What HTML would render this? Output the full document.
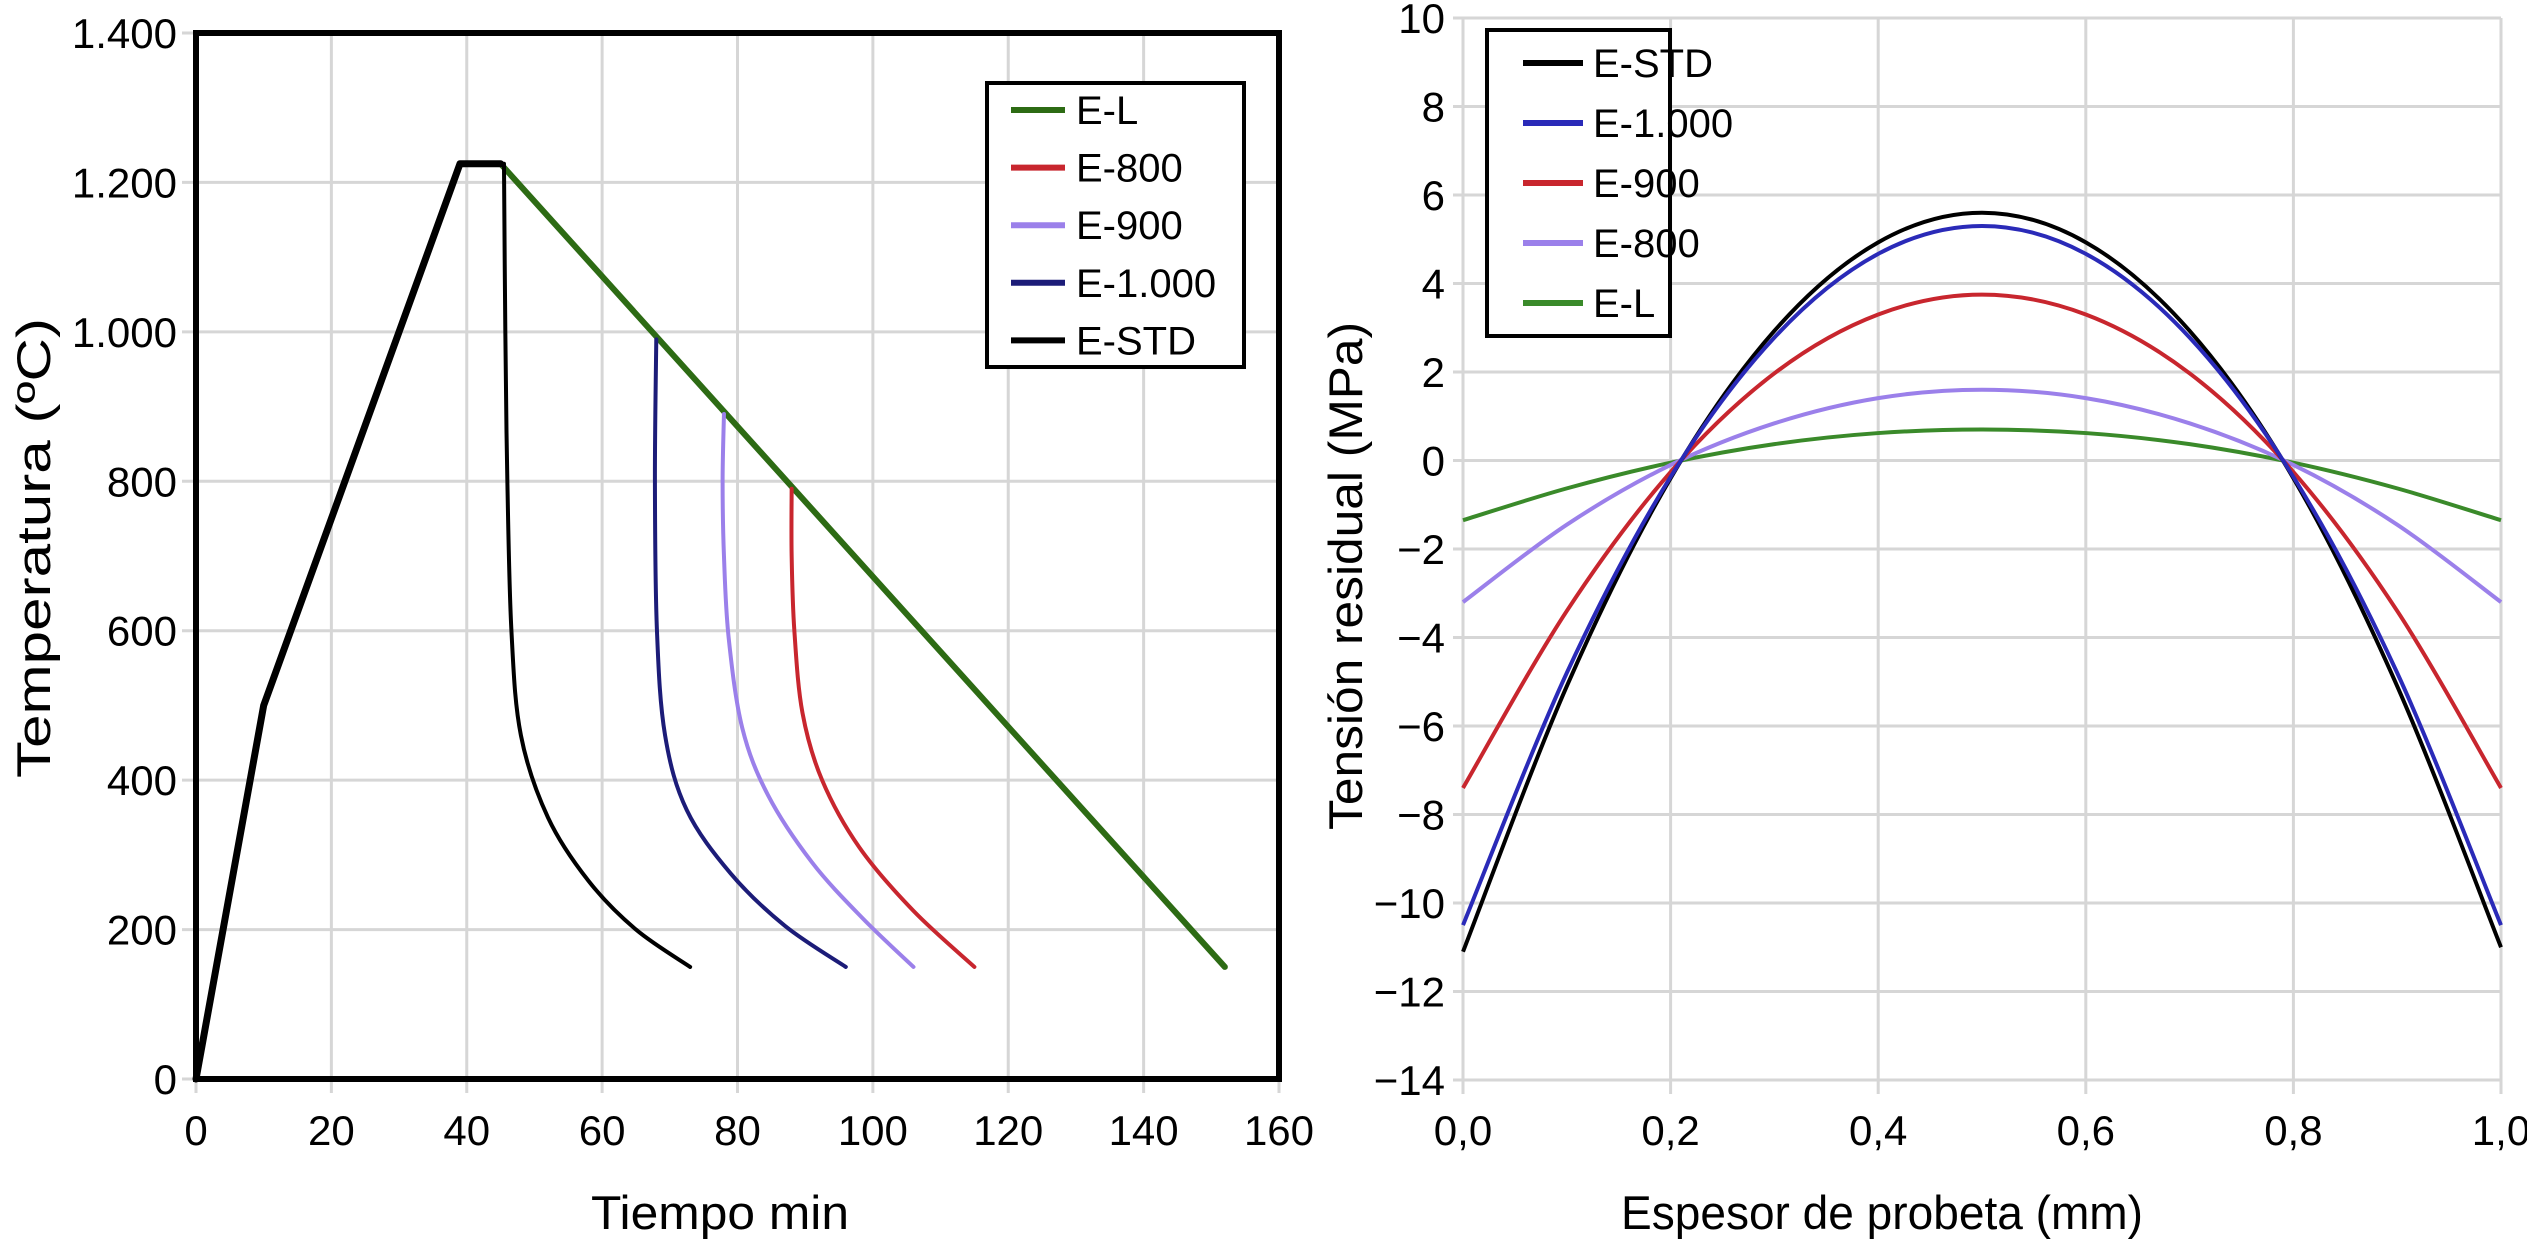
<!DOCTYPE html>
<html><head><meta charset="utf-8"><style>
html,body{margin:0;padding:0;background:#fff;}
svg{display:block;font-family:"Liberation Sans",Arial,sans-serif;}
</style></head><body>
<svg id="fig" width="2527" height="1240" viewBox="0 0 2527 1240" xmlns="http://www.w3.org/2000/svg">
<rect width="2527" height="1240" fill="#fff"/>
<g id="left"></g>
<g id="right"></g>
</svg>
<script>
// ---------- Left chart data ----------
const leftXTicks = [0,20,40,60,80,100,120,140,160];
const leftYTicks = [0,200,400,600,800,1000,1200,1400];
const leftYLabels = ["0","200","400","600","800","1.000","1.200","1.400"];
const heatT = [0,10,39,45];
const heatV = [0,500,1225,1225];
const elT = [45,152];
const elV = [1225,150];
const stdT = [45.5,45.7,46,46.6,48,52,58,65,73];
const stdV = [1225,1000,800,600,460,350,265,200,150];
const e1000T = [68,67.8,68.1,69.3,72.5,79,87,96];
const e1000V = [990,800,600,460,360,275,205,150];
const e900T = [78,77.8,78,78.7,80.7,84.5,91,98.5,106];
const e900V = [890,800,700,590,470,380,290,215,150];
const e800T = [88,88,88.4,89.6,92.5,98,106,115];
const e800V = [790,700,600,490,400,310,225,150];
const leftLegend = ["E-L","E-800","E-900","E-1.000","E-STD"];
const leftColors = ["#2d6b14","#c8262e","#9b80ea","#1c1c78","#000"];

// ---------- Right chart data ----------
const rightXTicks = [0,0.2,0.4,0.6,0.8,1.0];
const rightXLabels = ["0,0","0,2","0,4","0,6","0,8","1,0"];
const rightYTicks = [10,8,6,4,2,0,-2,-4,-6,-8,-10,-12,-14];
const rightYLabels = ["10","8","6","4","2","0","\u22122","\u22124","\u22126","\u22128","\u221210","\u221212","\u221214"];
const thick = [0,0.1,0.2,0.3,0.4,0.5,0.6,0.7,0.8,0.9,1.0];
const sStd = [-11.1,-5.1,-0.4,2.93,4.93,5.6,4.93,2.93,-0.4,-5.1,-11.0];
const s1000 = [-10.5,-4.8,-0.37,2.78,4.67,5.3,4.67,2.78,-0.37,-4.8,-10.5];
const s900 = [-7.4,-3.4,-0.26,1.97,3.3,3.75,3.3,1.97,-0.26,-3.4,-7.4];
const s800 = [-3.2,-1.45,-0.1,0.84,1.41,1.6,1.41,0.84,-0.1,-1.45,-3.2];
const sEL = [-1.35,-0.63,-0.05,0.37,0.62,0.7,0.62,0.37,-0.05,-0.63,-1.35];
const rightLegend = ["E-STD","E-1.000","E-900","E-800","E-L"];
const rightColors = ["#000","#2a2ab8","#c8262e","#9b80ea","#3a8a2a"];

const NS="http://www.w3.org/2000/svg";
function mk(parent,tag,attrs,text){const e=document.createElementNS(NS,tag);for(const k in attrs)e.setAttribute(k,attrs[k]);if(text!==undefined)e.textContent=text;parent.appendChild(e);return e;}
function splinePath(P){
  let d='M'+P[0][0]+','+P[0][1];
  for(let i=0;i<P.length-1;i++){
    const p0=P[Math.max(0,i-1)],p1=P[i],p2=P[i+1],p3=P[Math.min(P.length-1,i+2)];
    const c1=[p1[0]+(p2[0]-p0[0])/6,p1[1]+(p2[1]-p0[1])/6];
    const c2=[p2[0]-(p3[0]-p1[0])/6,p2[1]-(p3[1]-p1[1])/6];
    d+=' C'+c1+' '+c2+' '+p2;
  }
  return d;
}

// Left axes
const L={x0:196,x1:1279,y0:1079,y1:33};
const lx=t=>L.x0+(t-0)/(160-0)*(L.x1-L.x0);
const ly=v=>L.y0-(v-0)/(1400-0)*(L.y0-L.y1);
const lg=document.getElementById('left');
leftXTicks.forEach(t=>{
  const l=mk(lg,'line',{x1:lx(t),x2:lx(t),y1:L.y1,y2:L.y0+14,stroke:'#d6d6d6','stroke-width':3});
  
  
  const tx=mk(lg,'text',{x:lx(t),y:1145,'font-size':42,'text-anchor':'middle'},String(t));
  
  
});
leftYTicks.forEach((v,i)=>{
  const l=mk(lg,'line',{x1:L.x0-14,x2:L.x1,y1:ly(v),y2:ly(v),stroke:'#d6d6d6','stroke-width':3});
  
  
  const tx=mk(lg,'text',{x:177,y:ly(v)+15,'font-size':42,'text-anchor':'end'},leftYLabels[i]);
  
  
});
function poly(g,T,V,fx,fy,color,w,name){
  const p=mk(g,'polyline',{points:T.map((t,i)=>fx(t)+','+fy(V[i])).join(' '),fill:'none',stroke:color,'stroke-width':w,'stroke-linejoin':'round','stroke-linecap':'round'});
  
  
}
function curve(g,T,V,fx,fy,color,w,name){
  const p=mk(g,'path',{d:splinePath(T.map((t,i)=>[fx(t),fy(V[i])])),fill:'none',stroke:color,'stroke-width':w,'stroke-linecap':'round'});
  
  
}
poly(lg,elT,elV,lx,ly,leftColors[0],6,'series-e-l');
curve(lg,e800T,e800V,lx,ly,leftColors[1],4,'series-e-800');
curve(lg,e900T,e900V,lx,ly,leftColors[2],4,'series-e-900');
curve(lg,e1000T,e1000V,lx,ly,leftColors[3],4,'series-e-1000');
curve(lg,stdT,stdV,lx,ly,leftColors[4],4,'series-e-std');
poly(lg,heatT,heatV,lx,ly,'#000',7,'heating-segment');
const fr=mk(lg,'rect',{x:L.x0,y:L.y1,width:L.x1-L.x0,height:L.y0-L.y1,fill:'none',stroke:'#000','stroke-width':6});


const xt=mk(lg,'text',{x:720,y:1229,'font-size':47,'text-anchor':'middle',textLength:258,lengthAdjust:'spacingAndGlyphs'},'Tiempo min');


const yt=mk(lg,'text',{x:0,y:0,'font-size':47,'text-anchor':'middle',transform:'translate(50,548) rotate(-90)',textLength:460,lengthAdjust:'spacingAndGlyphs'},'Temperatura (ºC)');


const lbox=mk(lg,'rect',{x:987,y:83,width:257,height:284,fill:'#fff',stroke:'#000','stroke-width':4});


leftLegend.forEach((n,i)=>{
  const y=110+i*57.6;
  const s=mk(lg,'line',{x1:1011,x2:1065,y1:y,y2:y,stroke:leftColors[i],'stroke-width':6});
  
  
  const t=mk(lg,'text',{x:1076,y:y+14,'font-size':40},n);
  
  
});

// Right axes
const R={x0:1463,x1:2501,y0:1080,y1:18};
const rx=t=>R.x0+t*(R.x1-R.x0);
const ry=v=>R.y1+(10-v)/24*(R.y0-R.y1);
const rg=document.getElementById('right');
rightXTicks.forEach((t,i)=>{
  const l=mk(rg,'line',{x1:rx(t),x2:rx(t),y1:R.y1,y2:R.y0+14,stroke:'#d6d6d6','stroke-width':3});
  
  
  const tx=mk(rg,'text',{x:rx(t),y:1145,'font-size':42,'text-anchor':'middle'},rightXLabels[i]);
  
  
});
rightYTicks.forEach((v,i)=>{
  const l=mk(rg,'line',{x1:R.x0-10,x2:R.x1,y1:ry(v),y2:ry(v),stroke:'#d6d6d6','stroke-width':3});
  
  
  const tx=mk(rg,'text',{x:1445,y:ry(v)+15,'font-size':42,'text-anchor':'end'},rightYLabels[i]);
  
  
});
function spline(g,X,Y,color,name){
  const P=X.map((x,i)=>[rx(x),ry(Y[i])]);
  const p=mk(g,'path',{d:splinePath(P),fill:'none',stroke:color,'stroke-width':4});
  
  
}
spline(rg,thick,sEL,rightColors[4],'series-e-l');
spline(rg,thick,s800,rightColors[3],'series-e-800');
spline(rg,thick,s900,rightColors[2],'series-e-900');
spline(rg,thick,sStd,rightColors[0],'series-e-std');
spline(rg,thick,s1000,rightColors[1],'series-e-1000');
const rxt=mk(rg,'text',{x:1882,y:1229,'font-size':47,'text-anchor':'middle',textLength:522,lengthAdjust:'spacingAndGlyphs'},'Espesor de probeta (mm)');


const ryt=mk(rg,'text',{x:0,y:0,'font-size':47,'text-anchor':'middle',transform:'translate(1362,576) rotate(-90)',textLength:508,lengthAdjust:'spacingAndGlyphs'},'Tensión residual (MPa)');


const rbox=mk(rg,'rect',{x:1487,y:30,width:183,height:306,fill:'#fff',stroke:'#000','stroke-width':4});


rightLegend.forEach((n,i)=>{
  const y=63+i*60;
  const s=mk(rg,'line',{x1:1523,x2:1583,y1:y,y2:y,stroke:rightColors[i],'stroke-width':6});
  
  
  const t=mk(rg,'text',{x:1593,y:y+14,'font-size':40},n);
  
  
});
</script>
</body></html>
